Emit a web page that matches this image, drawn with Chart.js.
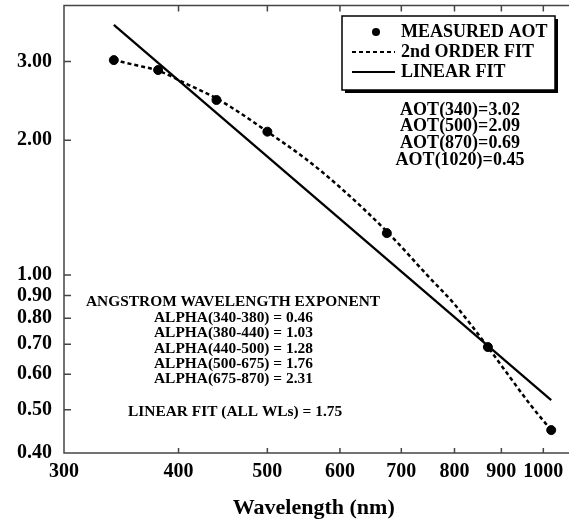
<!DOCTYPE html>
<html>
<head>
<meta charset="utf-8">
<title>Measured AOT and Angstrom fits</title>
<script src="https://cdn.jsdelivr.net/npm/chart.js@4.4.1/dist/chart.umd.min.js"></script>
<style>
    html, body { margin: 0; padding: 0; background: #fff; }
    #chart { display: block; }
</style>
</head>
<body>
<canvas id="chart" width="569" height="529"></canvas>
<script>
// measured aerosol optical thickness
const wavelengths = [340, 380, 440, 500, 675, 870, 1020];
const measuredAot = [3.02, 2.87, 2.46, 2.09, 1.24, 0.69, 0.45];

// 2nd order fit
const fitWavelengths = [340, 360, 380, 410, 440, 470, 500, 550, 600, 675, 750, 800, 870, 920, 970, 1020];
const fitAot = [3.02, 2.94, 2.86, 2.66, 2.48, 2.28, 2.09, 1.82, 1.57, 1.25, 0.99, 0.86, 0.69, 0.59, 0.51, 0.45];

// linear fit (straight on log-log), end points
const linearWavelengths = [340, 1020];
const linearAot = [3.62, 0.525];

const xTicks = [300, 400, 500, 600, 700, 800, 900, 1000];
const yTicks = [0.4, 0.5, 0.6, 0.7, 0.8, 0.9, 1, 2, 3];

const aotNotes = ['AOT(340)=3.02', 'AOT(500)=2.09', 'AOT(870)=0.69', 'AOT(1020)=0.45'];
const alphaTitle = 'ANGSTROM WAVELENGTH EXPONENT';
const alphaNotes = ['ALPHA(340-380) = 0.46', 'ALPHA(380-440) = 1.03', 'ALPHA(440-500) = 1.28',
                    'ALPHA(500-675) = 1.76', 'ALPHA(675-870) = 2.31'];
const linearNote = 'LINEAR FIT (ALL WLs) = 1.75';

const FONT = '"Liberation Serif", "Times New Roman", serif';
const pairs = (xs, ys) => xs.map((v, i) => ({x: v, y: ys[i]}));

// axes frame with inward ticks, legend box and notes
const decorations = {
    id: 'decorations',
    afterDraw(chart) {
        const {ctx, chartArea: a, scales: {x, y}} = chart;
        ctx.save();

        ctx.strokeStyle = '#444';
        ctx.lineWidth = 1.5;
        ctx.beginPath();
        ctx.moveTo(chart.width, a.top);
        ctx.lineTo(a.left, a.top);
        ctx.lineTo(a.left, a.bottom);
        ctx.lineTo(chart.width, a.bottom);
        xTicks.slice(1).forEach(v => {
            const px = x.getPixelForValue(v);
            ctx.moveTo(px, a.bottom); ctx.lineTo(px, a.bottom - 5);
            ctx.moveTo(px, a.top); ctx.lineTo(px, a.top + 6);
        });
        yTicks.slice(1).forEach(v => {
            const py = y.getPixelForValue(v);
            ctx.moveTo(a.left, py); ctx.lineTo(a.left + 7, py);
        });
        ctx.stroke();

        // legend
        const box = {x: 342, y: 16, w: 213, h: 74};
        ctx.fillStyle = '#000';
        ctx.fillRect(box.x + box.w, box.y + 3, 3, box.h);
        ctx.fillRect(box.x + 3, box.y + box.h, box.w, 3);
        ctx.strokeStyle = '#000';
        ctx.lineWidth = 1.5;
        ctx.strokeRect(box.x, box.y, box.w, box.h);

        ctx.font = 'bold 18px ' + FONT;
        ctx.textBaseline = 'middle';
        ctx.textAlign = 'left';
        chart.data.datasets.forEach((ds, i) => {
            const ly = 32 + i * 20;
            ctx.beginPath();
            if (ds.showLine) {
                ctx.lineWidth = 2;
                ctx.setLineDash(ds.borderDash || []);
                ctx.moveTo(352, ly); ctx.lineTo(395, ly);
                ctx.stroke();
                ctx.setLineDash([]);
            } else {
                ctx.arc(376, ly, 4, 0, Math.PI * 2);
                ctx.fill();
            }
            ctx.fillText(ds.label, 401, ly);
        });

        // AOT values
        ctx.textAlign = 'center';
        aotNotes.forEach((t, i) => ctx.fillText(t, 460, 110 + i * 16.8));

        // Angstrom exponents (the original lettering is a bit wider than tall)
        ctx.textAlign = 'left';
        ctx.font = 'bold 14px ' + FONT;
        const sx = 1.1;
        ctx.save();
        ctx.scale(sx, 1);
        ctx.fillText(alphaTitle, 86 / sx, 302.5);
        alphaNotes.forEach((t, i) => ctx.fillText(t, 154 / sx, 318.5 + i * 15.3));
        ctx.fillText(linearNote, 128 / sx, 412.5);
        ctx.restore();

        ctx.restore();
    }
};

new Chart(document.getElementById('chart'), {
    type: 'scatter',
    data: {
        datasets: [{
            label: 'MEASURED AOT',
            data: pairs(wavelengths, measuredAot),
            backgroundColor: '#000',
            borderColor: '#000',
            pointRadius: 4.5,
            showLine: false
        }, {
            label: '2nd ORDER FIT',
            data: pairs(fitWavelengths, fitAot),
            borderColor: '#000',
            borderWidth: 2.5,
            borderDash: [4, 3],
            pointRadius: 0,
            showLine: true,
            cubicInterpolationMode: 'monotone'
        }, {
            label: 'LINEAR FIT',
            data: pairs(linearWavelengths, linearAot),
            borderColor: '#000',
            borderWidth: 2.3,
            pointRadius: 0,
            showLine: true
        }]
    },
    options: {
        responsive: false,
        animation: false,
        layout: {padding: {top: 4, right: 0, left: 0, bottom: 0}},
        plugins: {legend: {display: false}, tooltip: {enabled: false}},
        scales: {
            x: {
                type: 'logarithmic',
                min: 300,
                max: 1052,
                grid: {display: false, drawTicks: false},
                border: {display: false},
                afterBuildTicks: s => { s.ticks = xTicks.map(v => ({value: v})); },
                afterFit: s => {
                    s.height = 76;
                    s.paddingLeft = 0;
                    s.paddingRight = 0;
                },
                ticks: {
                    autoSkip: false,
                    maxRotation: 0,
                    padding: 7,
                    color: '#000',
                    font: {family: FONT, size: 20, weight: 'bold'},
                    callback: v => String(v)
                },
                title: {
                    display: true,
                    text: 'Wavelength (nm)',
                    color: '#000',
                    font: {family: FONT, size: 22, weight: 'bold', lineHeight: 1.2},
                    padding: {top: 0, bottom: 7}
                }
            },
            y: {
                type: 'logarithmic',
                min: 0.4,
                max: 4.0,
                grid: {display: false, drawTicks: false},
                border: {display: false},
                afterBuildTicks: s => { s.ticks = yTicks.map(v => ({value: v})); },
                afterFit: s => {
                    s.width = 64;
                    s.paddingTop = 0;
                    s.paddingBottom = 0;
                },
                ticks: {
                    autoSkip: false,
                    padding: 12,
                    color: '#000',
                    font: {family: FONT, size: 20, weight: 'bold'},
                    callback: v => Number(v).toFixed(2)
                }
            }
        }
    },
    plugins: [decorations]
});
</script>
</body>
</html>
